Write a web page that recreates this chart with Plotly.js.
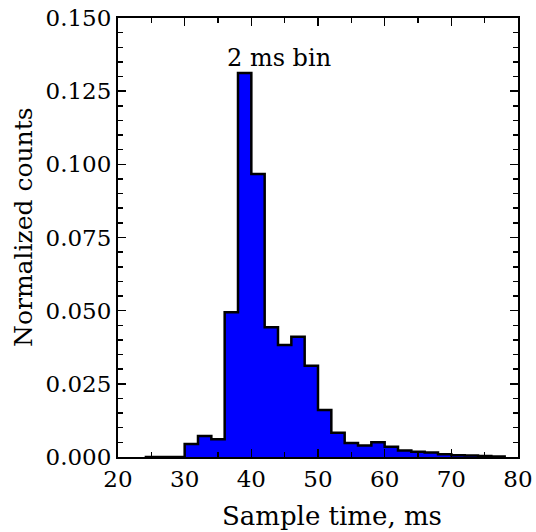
<!DOCTYPE html>
<html>
<head>
<meta charset="utf-8">
<script src="https://cdn.plot.ly/plotly-3.0.1.min.js"></script>
<style>html,body{margin:0;padding:0;background:#fff;}#chart{width:536px;height:532px;}</style>
</head>
<body>
<div id="chart"></div>
<script>
// Histogram bin left edges (ms), 2 ms bins
const binEdges = [24, 26, 28, 30, 32, 34, 36, 38, 40, 42, 44, 46, 48, 50, 52, 54, 56, 58, 60, 62, 64, 66, 68, 70, 72, 74, 76, 78];
// Normalized counts per bin (last value closes the outline at the final edge)
const counts = [0, 0, 0, 0.0044, 0.0072, 0.0061, 0.0495, 0.1312, 0.0967, 0.0443, 0.0383, 0.0411, 0.0312, 0.0161, 0.0083, 0.0048, 0.0039, 0.0050, 0.0035, 0.0022, 0.0018, 0.0015, 0.0009, 0.0006, 0.0005, 0.0003, 0.0002, 0];
const xTickVals = [20, 30, 40, 50, 60, 70, 80];
const yTickVals = [0, 0.025, 0.05, 0.075, 0.1, 0.125, 0.15];
const yTickText = ['0.000', '0.025', '0.050', '0.075', '0.100', '0.125', '0.150'];

const fam = 'DejaVu Serif';
const tickFont = {family: fam, size: 23, color: '#000'};
const noteFont = {family: fam, size: 24, color: '#000'};
const xTitleFont = {family: fam, size: 26, color: '#000'};
const yTitleFont = {family: fam, size: 25, color: '#000'};

const trace = {
  x: binEdges,
  y: counts,
  type: 'scatter',
  mode: 'lines',
  line: {shape: 'hv', color: '#000', width: 2.5},
  fill: 'tozeroy',
  fillcolor: '#0000ff',
  hoverinfo: 'skip'
};

const axisCommon = {
  showline: true, linecolor: '#000', linewidth: 2, mirror: 'allticks',
  ticks: 'inside', ticklen: 8, tickwidth: 1.5, tickcolor: '#000',
  showgrid: false, zeroline: false, tickfont: tickFont
};

const layout = {
  width: 536, height: 532,
  margin: {l: 118, r: 18, t: 18, b: 75},
  paper_bgcolor: '#fff', plot_bgcolor: '#fff',
  showlegend: false,
  xaxis: Object.assign({}, axisCommon, {
    range: [20, 80], tickvals: xTickVals,
    minor: {dtick: 5, tick0: 0, ticks: 'inside', ticklen: 5, tickwidth: 1.5, tickcolor: '#000'}
  }),
  yaxis: Object.assign({}, axisCommon, {
    range: [0, 0.15], tickvals: yTickVals, ticktext: yTickText,
    minor: {dtick: 0.005, tick0: 0, ticks: 'inside', ticklen: 5, tickwidth: 1.5, tickcolor: '#000'}
  }),
  annotations: [{
    x: 44.2, y: 0.1363, xref: 'x', yref: 'y', text: '2 ms bin', showarrow: false,
    font: noteFont, xanchor: 'center', yanchor: 'middle'
  }, {
    x: 0.535, y: -0.173, xref: 'paper', yref: 'paper', text: 'Sample time, ms', showarrow: false,
    font: xTitleFont, xanchor: 'center', yanchor: 'bottom'
  }, {
    x: -0.235, y: 0.524, xref: 'paper', yref: 'paper', text: 'Normalized counts', showarrow: false,
    textangle: -90, font: yTitleFont, xanchor: 'center', yanchor: 'middle'
  }]
};

Plotly.newPlot('chart', [trace], layout, {staticPlot: true, displayModeBar: false});
</script>
</body>
</html>
